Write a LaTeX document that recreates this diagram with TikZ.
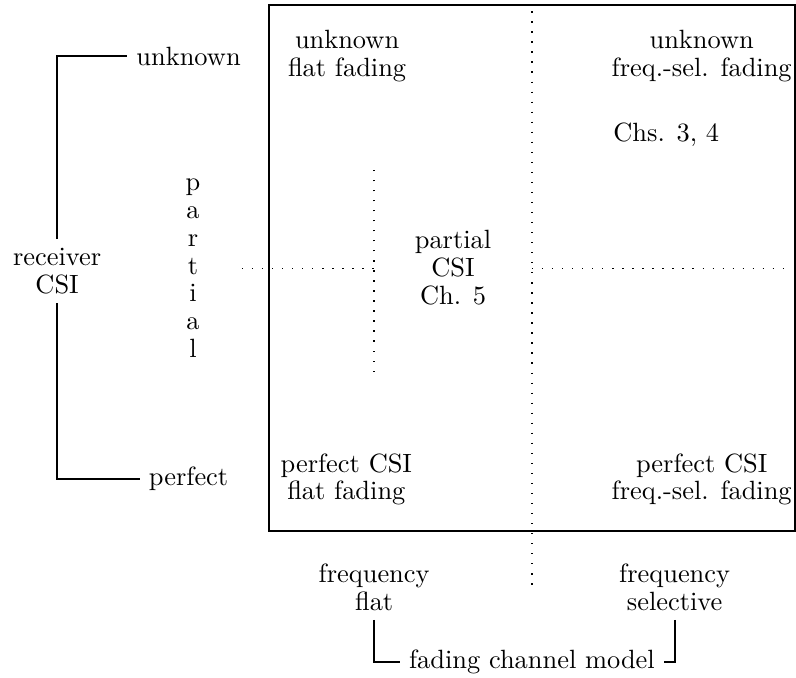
\documentclass[tikz,border=0pt]{standalone}
\usetikzlibrary{calc}
\begin{document}
\begin{tikzpicture}[lbl/.style={align=center,font=\fontsize{10}{10.5}\selectfont},
    dots/.style={line width=0.5pt,dash pattern=on 0.5pt off 3.3pt},
    brk/.style={thick}]
  \useasboundingbox (-3.58,-1.95) rectangle (7.015,7.07);
  \draw[thick] (0,0) rectangle (7,7);
  \draw[dots] (3.5,6.92) -- (3.5,-0.73);
  \draw[dots] (3.5,3.5) -- (6.93,3.5);
  \draw[dots] (-0.36,3.5) -- (1.4,3.5);
  \draw[dots] (1.4,2.12) -- (1.4,4.91);
  % the four corners of the box
  \node[lbl] (uflat) at (1.04,6.32) {unknown\\flat fading};
  \node[lbl] (usel) at (5.76,6.32) {unknown\\freq.-sel. fading};
  \node[lbl,anchor=west] (chs) at (4.46,5.28) {Chs. 3, 4};
  \node[lbl] (pcsi) at (2.45,3.51) {partial\\CSI\\Ch. 5};
  \node[lbl] (pflat) at (1.03,0.69) {perfect CSI\\flat fading};
  \node[lbl] (psel) at (5.76,0.69) {perfect CSI\\freq.-sel. fading};
  % receiver CSI axis
  \node[lbl] (rcsi) at (-2.82,3.46) {receiver\\CSI};
  \node[lbl] (unk) at (-1.07,6.32) {unknown};
  \node[lbl] (prf) at (-1.07,0.692) {perfect};
  \node[lbl] (part) at (-1.01,3.5) {p\\a\\r\\t\\i\\a\\l};
  \draw[brk] (rcsi.north) |- (unk.west);
  \draw[brk] (rcsi.south) |- (prf.west);
  % fading channel axis
  \node[lbl] (fflat) at (1.40,-0.745) {frequency\\flat};
  \node[lbl] (fsel) at (5.40,-0.745) {frequency\\selective};
  \node[lbl] (fcm) at (3.5,-1.744) {fading channel model};
  \draw[brk] (fflat.south) |- (fcm.west);
  \draw[brk] (fsel.south) |- (fcm.east);
\end{tikzpicture}
\end{document}
